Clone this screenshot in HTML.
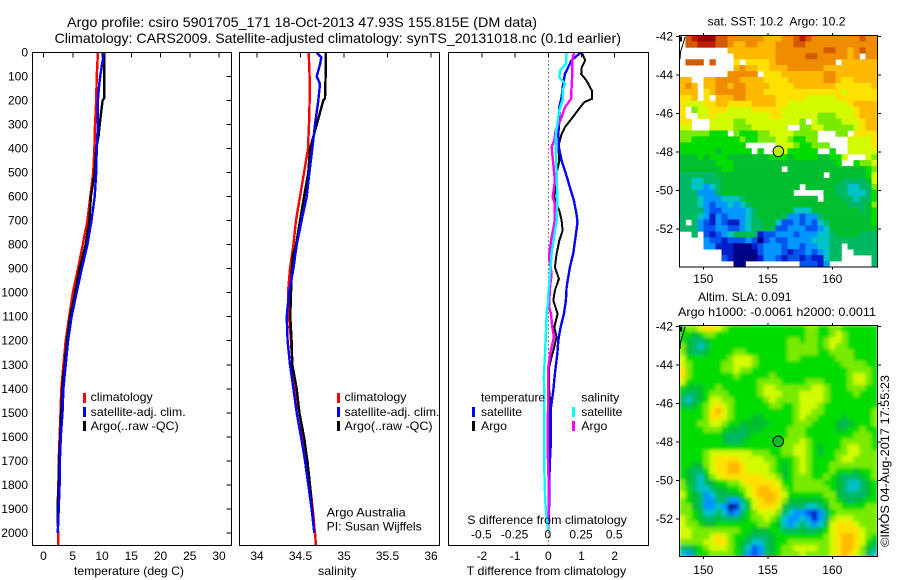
<!DOCTYPE html>
<html lang="en">
<head>
<meta charset="utf-8">
<title>Argo profile csiro 5901705_171</title>
<style>
html,body{margin:0;padding:0;background:#fff;}
svg{display:block;}
text{font-family:"Liberation Sans",sans-serif;font-size:12px;fill:#000;}
.title{font-size:14px;}
</style>
</head>
<body>
<svg id="chart" xmlns="http://www.w3.org/2000/svg" width="900" height="580" viewBox="0 0 900 580">
  <defs>
    <clipPath id="clipTemp"><rect x="32.5" y="52.5" width="199" height="493"/></clipPath>
    <clipPath id="clipSal"><rect x="239.5" y="52.5" width="200" height="493"/></clipPath>
    <clipPath id="clipDiff"><rect x="448.5" y="52.5" width="200" height="493"/></clipPath>
    <clipPath id="clipSst"><rect x="679.5" y="35.5" width="198" height="231.5"/></clipPath>
    <clipPath id="clipSla"><rect x="679.5" y="325.5" width="198" height="231"/></clipPath>
    <filter id="smoothSla" x="-5%" y="-5%" width="110%" height="110%"><feGaussianBlur in="SourceGraphic" stdDeviation="1.5" edgeMode="duplicate"/></filter>
  </defs>
  <rect x="0" y="0" width="900" height="580" fill="#fff"/>

  <text class="title" x="67" y="27" textLength="470" lengthAdjust="spacingAndGlyphs">Argo profile: csiro 5901705_171 18-Oct-2013 47.93S 155.815E (DM data)</text>
  <text class="title" x="54.5" y="43" textLength="566.5" lengthAdjust="spacingAndGlyphs">Climatology: CARS2009. Satellite-adjusted climatology: synTS_20131018.nc (0.1d earlier)</text>

  <g id="tempLines" clip-path="url(#clipTemp)"></g>
  <g id="salLines" clip-path="url(#clipSal)"></g>
  <g id="diffLines" clip-path="url(#clipDiff)"></g>
  <g id="sstCells" clip-path="url(#clipSst)"></g>
  <g clip-path="url(#clipSla)"><g id="slaCells" filter="url(#smoothSla)"></g></g>
  <g id="axes"></g>

  <rect x="32.5" y="52.5" width="199" height="493" fill="none" stroke="#000"/>
  <rect x="239.5" y="52.5" width="200" height="493" fill="none" stroke="#000"/>
  <rect x="448.5" y="52.5" width="200" height="493" fill="none" stroke="#000"/>
  <rect x="679.5" y="35.5" width="198" height="231.5" fill="none" stroke="#000"/>
  <rect x="679.5" y="325.5" width="198" height="231" fill="none" stroke="#000"/>

  <polyline points="685,37 683,44 680.5,52 680,59" fill="none" stroke="#000" stroke-width="1"/>
  <rect x="680" y="36.5" width="2" height="5" fill="#000"/>
  <polyline points="685,327 683,334 680.5,342 680,349" fill="none" stroke="#000" stroke-width="1"/>
  <rect x="680" y="326.5" width="2" height="5" fill="#000"/>
  <circle cx="778.3" cy="151.3" r="5.3" fill="#b8ee00" stroke="#000"/>
  <circle cx="778.3" cy="441.3" r="5.3" fill="#00be20" stroke="#000"/>

  <text x="74" y="575" textLength="110" lengthAdjust="spacingAndGlyphs">temperature (deg C)</text>
  <text x="318" y="575" textLength="38.5" lengthAdjust="spacingAndGlyphs">salinity</text>
  <text x="466.7" y="575" textLength="159.5" lengthAdjust="spacingAndGlyphs">T difference from climatology</text>
  <text x="467.3" y="524" textLength="159.5" lengthAdjust="spacingAndGlyphs">S difference from climatology</text>

  <rect x="83" y="393" width="3" height="10" fill="#f00"/>
  <text x="90.7" y="401" textLength="62" lengthAdjust="spacingAndGlyphs">climatology</text>
  <rect x="83" y="407" width="3" height="10" fill="#00f"/>
  <text x="90.7" y="416" textLength="95" lengthAdjust="spacingAndGlyphs">satellite-adj. clim.</text>
  <rect x="83" y="421" width="3" height="10" fill="#000"/>
  <text x="90.7" y="430" textLength="88" lengthAdjust="spacingAndGlyphs">Argo(..raw -QC)</text>

  <rect x="337" y="393" width="3" height="10" fill="#f00"/>
  <text x="344.5" y="401" textLength="62" lengthAdjust="spacingAndGlyphs">climatology</text>
  <rect x="337" y="407" width="3" height="10" fill="#00f"/>
  <text x="344.5" y="416" textLength="95" lengthAdjust="spacingAndGlyphs">satellite-adj. clim.</text>
  <rect x="337" y="421" width="3" height="10" fill="#000"/>
  <text x="344.5" y="430" textLength="88" lengthAdjust="spacingAndGlyphs">Argo(..raw -QC)</text>

  <text x="326.7" y="516.5" textLength="79" lengthAdjust="spacingAndGlyphs">Argo Australia</text>
  <text x="326.7" y="530.5" textLength="95" lengthAdjust="spacingAndGlyphs">PI: Susan Wijffels</text>

  <text x="481" y="401.5" textLength="64" lengthAdjust="spacingAndGlyphs">temperature</text>
  <rect x="472" y="407" width="3" height="10" fill="#00f"/>
  <text x="481" y="416" textLength="41" lengthAdjust="spacingAndGlyphs">satellite</text>
  <rect x="472" y="421" width="3" height="10" fill="#000"/>
  <text x="481" y="430" textLength="26" lengthAdjust="spacingAndGlyphs">Argo</text>
  <text x="581.3" y="401.5" textLength="38" lengthAdjust="spacingAndGlyphs">salinity</text>
  <rect x="572" y="407" width="3" height="10" fill="#0ff"/>
  <text x="581.3" y="416" textLength="41" lengthAdjust="spacingAndGlyphs">satellite</text>
  <rect x="572" y="421" width="3" height="10" fill="#f0f"/>
  <text x="581.3" y="430" textLength="26" lengthAdjust="spacingAndGlyphs">Argo</text>

  <text x="707.5" y="25.5" textLength="138" lengthAdjust="spacingAndGlyphs" style="white-space:pre">sat. SST: 10.2  Argo: 10.2</text>
  <text x="698" y="301" textLength="93.5" lengthAdjust="spacingAndGlyphs">Altim. SLA: 0.091</text>
  <text x="678" y="316" textLength="198" lengthAdjust="spacingAndGlyphs">Argo h1000: -0.0061 h2000: 0.0011</text>
  <text transform="translate(889,547) rotate(-90)" x="0" y="0" textLength="172" lengthAdjust="spacingAndGlyphs">©IMOS 04-Aug-2017 17:55:23</text>
</svg>

<script>
// ---- axis tick labels ----
const depthTicks = [0,100,200,300,400,500,600,700,800,900,1000,1100,1200,1300,1400,1500,1600,1700,1800,1900,2000];
const tempTicks = [0,5,10,15,20,25,30];
const salTicks = [34,34.5,35,35.5,36];
const diffTTicks = [-2,-1,0,1,2];
const diffSTicks = [-0.5,-0.25,0,0.25,0.5];
const lonTicks = [150,155,160];
const latTicks = [-42,-44,-46,-48,-50,-52];

// ---- temperature profiles (deg C) ----
const climTempDepth = [0,100,200,300,400,500,600,700,800,900,1000,1100,1200,1300,1400,1500,1600,1700,1800,1900,2000,2053];
const climTemp = [9.3,9.1,9.0,8.8,8.7,8.5,8.0,7.5,6.7,5.9,5.0,4.4,3.8,3.4,3.05,2.9,2.75,2.6,2.55,2.4,2.5,2.5];
const argoTempDepth = [0,100,190,200,250,300,350,400,500,600,700,800,900,1000,1100,1200,1300,1400,1500,1600,1700,1800,1900,1960];
const argoTemp = [10.36,10.4,10.36,10.1,9.85,9.6,9.4,9.0,8.75,8.1,7.85,7.2,6.15,5.4,4.55,4.0,3.6,3.2,3.05,2.85,2.65,2.6,2.4,2.4];
const satTempDepth = [0,50,100,150,200,300,400,500,600,700,800,900,1000,1100,1200,1300,1400,1500,1600,1700,1800,1900,2000];
const satTemp = [10.36,10,9.7,9.45,9.3,9.3,9.1,9.0,8.75,8.2,7.5,6.55,5.65,4.8,4.2,3.8,3.4,3.25,2.95,2.8,2.75,2.6,2.45];

// ---- salinity profiles ----
const climSal = [34.594,34.605,34.605,34.598,34.586,34.540,34.494,34.448,34.418,34.379,34.356,34.368,34.391,34.406,34.437,34.487,34.533,34.579,34.609,34.640,34.667,34.678];
const argoSal = [34.789,34.789,34.782,34.762,34.724,34.686,34.648,34.609,34.590,34.540,34.494,34.448,34.410,34.402,34.391,34.383,34.398,34.406,34.456,34.487,34.540,34.579,34.609,34.632,34.648];
const argoSalDepth = [0,100,190,200,250,300,350,400,500,600,700,800,850,900,1000,1100,1200,1300,1400,1500,1600,1700,1800,1900,1960];
const satSalDepth = [0,20,50,100,130,200,300,400,500,600,700,800,900,1000,1100,1200,1300,1400,1500,1600,1700,1800,1900,2000];
const satSal = [34.686,34.739,34.724,34.686,34.724,34.705,34.667,34.636,34.602,34.571,34.513,34.456,34.418,34.368,34.341,34.352,34.379,34.418,34.456,34.506,34.552,34.590,34.628,34.659];

// ---- differences from climatology ----
const diffArgoTDepth = [0,33,61,89,117,158,193,207,241,276,311,339,366,394,450,505,561,602,630,658,699,741,783,838,894,942,991,1032,1088,1143,1185,1241,1310,1393,1449,1518,1588,1643,1921,1991];
const diffArgoT = [1.01,1.11,1.01,0.99,1.15,1.31,1.31,1.08,0.89,0.70,0.50,0.40,0.35,0.30,0.33,0.25,0.22,0.18,0.25,0.33,0.40,0.43,0.33,0.25,0.20,0.32,0.20,0.15,0.28,0.18,0.25,0.15,0.02,0.02,0.05,0.03,0.03,0.05,0.02,0.01];
const diffSatTDepth = [0,33,89,130,186,228,283,339,394,450,505,561,616,672,706,769,838,894,977,1032,1088,1143,1199,1255,1338,1407,1477,1560,1643,1727,1866,1977];
const diffSatT = [0.98,0.70,0.50,0.45,0.40,0.33,0.33,0.30,0.32,0.40,0.53,0.65,0.77,0.85,0.88,0.82,0.75,0.65,0.55,0.53,0.47,0.37,0.30,0.27,0.20,0.15,0.08,0.07,0.07,0.04,0.03,0.00];
const diffSatSDepth = [0,47,75,103,130,158,200,241,297,339,394,505,616,699,769,838,921,1005,1032,1088,1171,1255,1352,1449,1588,1727,1866,1935,1991];
const diffSatS = [0.138,0.133,0.088,0.083,0.126,0.108,0.108,0.083,0.068,0.058,0.055,0.063,0.068,0.063,0.043,0.025,0.013,0,0,-0.013,-0.018,-0.025,-0.033,-0.03,-0.03,-0.03,-0.023,-0.013,0];
const diffArgoSDepth = [0,33,89,193,228,269,325,366,394,464,533,602,630,699,783,852,921,977,1060,1088,1143,1185,1241,1310,1393,1518,1643,1796,1893,1977];
const diffArgoS = [0.193,0.181,0.181,0.171,0.126,0.10,0.055,0.045,0.025,0.038,0.05,0.033,0.05,0.05,0.02,0.005,0.025,0.013,0.005,0.02,0.03,0.043,0.018,0,0,-0.003,-0.005,0.003,0.003,0];

// ---- SST map: colour-scale level per cell, _ = no data ----
const _ = null;
const sstRows = [
[_,13,14,15,15,15,13,13,12,12,12,12,12,12,11,11,11,12,12,13,14,13,12,12,12,12,12,12,12,12,13,12,12],
[_,13,13,14,14,14,13,13,12,11,11,12,12,11,11,11,12,12,12,13,13,12,12,12,12,12,12,12,12,12,12,12,12],
[_,_,_,_,_,_,_,_,11,11,11,11,11,11,11,11,12,12,12,12,12,12,12,12,13,13,12,12,11,12,13,12,12],
[_,_,_,_,_,_,_,_,_,11,11,11,11,11,11,11,12,12,12,12,12,13,13,12,12,12,12,12,11,12,_,12,12],
[_,13,13,13,_,13,_,_,_,10,_,10,10,10,10,11,12,12,12,12,12,12,12,12,12,12,_,11,11,11,11,11,11],
[_,_,_,_,_,_,_,_,_,11,12,11,11,10,10,11,11,11,12,12,12,12,12,12,11,11,11,11,11,11,11,11,11],
[_,_,_,_,_,_,_,_,12,12,12,12,12,_,10,10,10,11,11,11,11,11,11,11,12,12,11,11,11,11,11,11,11],
[11,11,_,_,11,11,12,12,12,12,11,11,11,11,10,10,10,10,11,11,11,11,11,11,12,12,11,10,10,11,11,11,11],
[11,12,11,_,11,11,12,12,11,12,12,11,11,11,11,10,10,10,10,11,11,11,11,11,11,11,10,10,10,10,10,10,11],
[11,11,11,_,10,11,12,12,12,12,12,11,11,11,10,10,10,10,10,10,10,10,10,10,10,10,10,9,10,10,10,10,10],
[10,10,11,_,10,_,11,11,11,12,12,11,11,11,11,11,10,10,10,10,10,9,9,9,9,9,10,10,10,10,10,10,10],
[10,9,9,9,10,10,11,11,10,10,10,10,11,11,11,11,10,10,9,9,9,9,9,9,9,9,9,9,10,11,11,11,11],
[10,_,8,9,9,10,10,10,9,9,9,9,10,10,10,10,10,9,9,9,9,9,9,9,9,9,9,9,9,10,11,11,11],
[10,_,_,9,9,10,9,9,9,9,9,9,9,9,9,10,10,9,9,9,9,9,9,8,8,8,9,9,9,10,11,11,11],
[10,10,_,_,_,9,9,9,9,8,8,9,9,9,9,9,9,9,9,9,8,_,9,8,8,8,8,9,9,9,10,11,11],
[9,9,_,_,_,9,9,9,9,8,8,8,9,9,9,9,9,9,_,_,8,8,9,9,8,8,8,8,8,9,10,11,11],
[8,8,8,8,8,7,7,7,_,8,7,7,7,8,8,9,9,9,9,8,8,8,8,_,_,_,8,8,_,10,10,10,10],
[8,8,7,7,7,7,7,7,7,7,8,7,7,8,8,8,9,9,8,7,7,8,8,_,_,_,_,_,9,9,9,9,10],
[7,7,7,7,7,7,7,7,7,7,7,_,_,_,_,_,9,9,9,8,7,7,8,8,8,_,_,_,9,9,9,9,10],
[7,7,7,7,7,7,6,7,7,7,7,7,_,7,_,_,9,9,7,7,7,7,7,_,_,7,_,_,9,9,9,9,9],
[6,6,6,7,6,7,7,7,6,6,6,6,6,6,6,7,7,7,6,7,7,7,7,6,6,7,7,9,_,_,_,9,8],
[6,6,6,6,6,6,7,7,7,6,6,6,6,6,6,6,6,6,6,6,6,6,6,6,6,6,7,_,_,7,8,8,9],
[6,6,6,6,6,6,6,7,7,6,6,6,6,6,6,6,6,_,6,6,6,6,6,6,6,6,6,6,6,6,6,7,8],
[5,5,5,5,5,5,6,6,6,6,6,6,6,6,6,6,6,6,6,6,6,6,6,6,_,6,6,6,6,6,6,7,9],
[5,5,4,4,5,5,5,6,6,6,6,6,6,6,6,6,6,6,6,6,6,6,6,6,6,6,6,5,5,5,5,6,9],
[5,5,4,4,3,4,5,6,6,6,6,6,6,6,6,6,6,6,6,6,_,6,6,6,6,6,5,5,4,4,5,5,8],
[5,5,5,3,3,3,5,6,6,6,6,6,6,6,6,6,6,6,6,_,_,_,_,_,6,6,5,5,4,4,4,5,7],
[5,5,5,4,3,3,3,4,4,4,5,6,6,6,6,6,6,6,6,6,6,6,6,_,6,6,6,5,5,4,5,5,7],
[5,5,5,4,3,2,3,3,4,3,4,5,6,6,6,6,6,6,6,6,6,6,6,6,6,6,6,6,5,5,5,6,8],
[5,5,5,5,3,2,2,3,3,3,3,4,5,6,6,6,6,6,6,4,4,4,6,6,6,6,6,6,6,6,5,6,7],
[5,5,5,4,3,1,3,2,3,3,3,4,5,6,6,6,6,5,3,3,2,3,3,5,6,6,6,6,6,6,6,6,7],
[5,_,5,3,2,1,3,2,1,1,3,4,5,5,6,6,4,2,2,3,2,3,2,4,5,6,6,6,6,6,6,6,7],
[5,5,5,3,2,2,3,3,2,2,3,4,5,5,6,5,2,2,3,3,3,2,2,3,4,6,6,6,6,6,6,6,6],
[_,_,5,_,2,1,2,3,4,5,5,5,5,1,2,2,3,3,3,2,3,3,3,4,4,5,6,6,6,6,5,5,5],
[_,_,_,_,3,2,2,1,2,2,2,3,2,0,2,3,2,2,3,3,3,3,4,4,4,5,5,5,5,5,5,5,5],
[_,_,_,_,3,3,1,1,1,0,0,0,1,2,3,3,3,2,3,3,2,3,3,4,4,5,5,_,5,5,5,5,5],
[_,_,_,_,_,_,_,1,1,0,0,0,0,2,3,3,3,2,1,2,2,3,2,3,4,5,5,_,_,5,5,5,5],
[_,_,_,_,_,_,_,2,1,0,0,0,0,1,3,3,2,1,2,2,1,2,1,1,4,5,5,_,_,_,_,_,5],
[_,_,_,_,_,_,_,_,_,0,0,_,_,_,_,_,_,_,_,_,2,2,2,1,3,_,_,_,_,_,_,_,5]
];

// ---- SLA map: colour-scale level per cell ----
const slaRows = [
[7,8,8,9,10,10,9,8,7,7,7,7,7,7,7,7,7,7,7,7,7,8,8,7,7,8,8,7,7,7,7,7,7],
[7,7,6,7,8,8,7,7,7,7,7,7,7,7,7,7,7,7,7,7,7,8,8,7,7,8,9,8,7,7,7,7,7],
[7,6,5,5,6,7,7,7,7,7,7,7,7,7,7,7,7,7,8,8,7,8,8,7,8,9,9,8,7,7,7,7,7],
[8,6,5,4,5,7,7,7,7,7,7,7,7,7,7,7,7,7,8,8,8,8,8,7,8,9,8,8,7,7,7,7,7],
[8,6,5,5,6,7,7,7,7,8,8,7,7,7,7,7,7,7,8,8,8,8,8,7,7,8,8,8,8,7,7,7,7],
[9,7,7,7,7,7,7,7,8,9,9,9,8,7,7,7,7,7,8,8,7,7,7,7,7,7,8,8,8,7,7,7,7],
[9,8,7,7,7,7,7,8,8,9,9,9,8,7,7,7,7,7,7,7,7,7,7,7,7,7,7,8,8,8,8,7,7],
[10,8,7,7,7,7,7,8,8,9,8,8,7,7,7,7,7,7,7,7,7,7,7,7,7,7,7,7,8,8,8,8,7],
[10,8,7,7,7,7,7,7,7,8,7,7,7,7,7,8,7,7,7,7,7,7,7,7,7,7,7,7,8,9,9,8,7],
[9,7,7,7,7,7,7,7,7,7,7,7,7,8,8,8,8,7,7,7,7,8,8,8,7,7,7,7,8,9,9,8,7],
[7,6,6,6,7,7,8,7,7,7,7,7,7,8,9,9,8,8,8,8,8,8,9,9,8,7,7,7,8,8,8,7,7],
[6,5,5,6,7,8,8,8,7,7,7,7,7,8,9,9,9,8,8,8,9,9,9,9,8,7,7,7,7,8,7,7,7],
[5,4,5,6,7,9,9,8,8,7,7,7,7,7,8,9,8,8,8,8,9,9,9,9,8,7,7,7,7,7,7,7,7],
[6,5,6,7,8,9,10,9,8,7,7,7,7,7,7,8,8,7,7,8,9,9,9,8,7,7,7,7,7,7,7,7,7],
[7,7,7,7,8,10,11,9,8,7,7,7,7,7,7,7,7,7,7,8,9,9,8,8,7,7,7,7,7,7,7,7,8],
[7,7,7,7,8,10,10,9,8,7,7,7,6,6,7,7,7,7,7,8,9,8,8,7,7,7,7,6,7,7,7,7,8],
[7,7,7,8,8,9,9,8,7,7,6,6,6,6,6,7,7,7,7,8,8,8,7,7,7,7,6,5,6,7,7,7,8],
[7,7,7,7,8,8,8,7,6,6,5,6,6,6,7,7,7,7,8,8,8,7,7,7,7,7,6,6,7,7,8,7,7],
[7,7,7,7,7,7,7,6,5,5,5,6,7,7,7,7,7,7,8,8,8,7,7,7,7,7,7,7,7,8,8,8,7],
[7,7,7,7,7,7,7,6,5,5,6,7,7,7,7,7,7,8,8,8,9,8,7,7,7,7,7,8,8,8,8,8,7],
[7,7,7,7,7,7,7,7,7,7,7,7,7,7,7,7,7,8,8,9,9,8,7,6,7,7,7,8,9,9,8,8,7],
[7,7,7,7,8,9,9,9,9,9,9,9,8,8,8,7,7,8,8,9,9,8,7,6,7,7,8,8,9,9,8,8,8],
[7,7,7,7,8,9,10,10,10,10,9,9,9,9,8,8,7,7,7,8,9,8,7,7,7,7,8,9,9,8,8,8,8],
[7,7,6,6,8,9,10,10,11,11,10,9,9,9,9,8,7,6,7,8,9,8,7,7,7,8,8,8,8,8,8,8,8],
[7,6,5,5,7,9,10,10,11,11,10,9,9,9,9,8,7,6,7,8,9,8,7,7,7,8,7,7,7,6,7,7,8],
[7,6,5,4,6,8,9,10,10,10,10,10,10,10,9,9,8,6,7,8,8,8,7,7,8,7,6,5,5,5,6,7,8],
[8,6,5,4,5,6,7,7,8,8,9,10,10,10,10,10,9,7,7,8,8,8,8,8,7,7,6,5,4,4,5,6,7],
[8,7,5,4,4,5,6,6,7,7,8,9,10,11,11,10,10,8,7,8,8,8,8,8,8,7,6,5,4,4,5,6,7],
[9,7,6,5,3,4,5,5,6,6,7,9,10,11,11,11,10,9,7,7,7,7,7,7,8,8,6,5,5,5,5,6,7],
[8,7,6,5,3,3,5,5,3,3,5,7,9,10,11,11,10,8,6,6,6,6,6,6,7,8,7,6,5,6,6,7,7],
[8,8,6,5,3,3,4,3,0,1,4,6,9,10,10,10,9,6,5,5,5,4,4,5,6,8,8,7,7,7,7,8,8],
[8,8,7,6,4,4,5,4,2,3,5,7,8,9,9,9,8,5,4,3,3,2,1,3,5,7,8,8,8,8,8,8,8],
[9,8,7,6,5,5,6,5,5,5,6,7,8,8,9,8,7,4,3,3,4,3,1,3,5,8,9,9,9,8,8,8,8],
[9,8,8,7,6,6,7,7,7,7,7,7,7,8,8,7,6,4,3,4,5,4,3,4,6,9,10,10,10,9,8,8,8],
[9,9,8,8,8,8,8,8,8,8,7,7,6,6,6,7,7,5,5,5,6,5,5,6,7,9,10,10,10,10,9,8,8],
[9,9,8,8,8,9,10,9,8,7,7,6,5,5,5,6,7,7,7,7,7,7,7,7,8,9,10,11,11,10,9,8,7],
[8,8,8,8,9,9,10,10,8,7,6,5,4,4,5,6,7,7,8,8,8,8,8,8,8,9,10,11,11,10,9,7,6],
[5,5,6,7,8,9,9,9,8,7,6,4,2,3,5,6,7,8,8,9,9,9,9,8,8,9,10,11,11,10,8,6,5],
[4,3,5,7,7,8,8,8,8,7,5,3,2,3,5,6,7,8,8,8,9,8,8,8,8,9,10,11,10,9,8,5,4]
];

// ---- colour scale, level index to rgb ----
const levelColors = ["rgb(0,0,135)","rgb(0,30,200)","rgb(0,85,240)","rgb(0,150,255)","rgb(0,195,200)","rgb(0,185,100)","rgb(0,190,45)","rgb(0,220,0)","rgb(120,235,0)","rgb(210,250,0)","rgb(255,225,0)","rgb(255,185,0)","rgb(240,140,0)","rgb(210,90,0)","rgb(190,30,0)","rgb(150,0,0)"];

// ---- scales ----
const SVGNS = "http://www.w3.org/2000/svg";
function yDepth(d){ return 52.5 + 0.2402 * d; }
function xTemp(t){ return 43.5 + 5.85 * t; }
function xSal(s){ return 257 + 87 * (s - 34); }
function xDiffT(v){ return 548.3 + 33.2 * v; }
function xDiffS(v){ return 548.3 + 132.8 * v; }
function xLon(lon){ return 703.3 + 12.9 * (lon - 150); }
function ySstLat(lat){ return 36.3 + 19.25 * (-42 - lat); }
function ySlaLat(lat){ return 326.7 + 19.25 * (-42 - lat); }

const tempGroup = document.getElementById("tempLines");
const salGroup = document.getElementById("salLines");
const diffGroup = document.getElementById("diffLines");
const sstGroup = document.getElementById("sstCells");
const slaGroup = document.getElementById("slaCells");
const axesGroup = document.getElementById("axes");

function linePoints(depths, values, xFn){
  return values.map(function(v, i){ return xFn(v).toFixed(1) + "," + yDepth(depths[i]).toFixed(1); }).join(" ");
}
function makeLine(depths, values, xFn, color, width){
  const el = document.createElementNS(SVGNS, "polyline");
  el.setAttribute("points", linePoints(depths, values, xFn));
  el.setAttribute("fill", "none");
  el.setAttribute("stroke", color);
  el.setAttribute("stroke-width", width);
  el.setAttribute("shape-rendering", "crispEdges");
  return el;
}
function makeText(x, y, str, anchor){
  const el = document.createElementNS(SVGNS, "text");
  el.setAttribute("x", x);
  el.setAttribute("y", y);
  el.setAttribute("text-anchor", anchor);
  el.textContent = str;
  return el;
}
function makeTick(x1, y1, x2, y2){
  const el = document.createElementNS(SVGNS, "line");
  el.setAttribute("x1", x1);
  el.setAttribute("y1", y1);
  el.setAttribute("x2", x2);
  el.setAttribute("y2", y2);
  el.setAttribute("stroke", "#000");
  el.setAttribute("stroke-width", 1);
  el.setAttribute("shape-rendering", "crispEdges");
  return el;
}

// temperature panel
let el;
el = makeLine(climTempDepth, climTemp, xTemp, "#f00", 2.4);


tempGroup.appendChild(el);
el = makeLine(argoTempDepth, argoTemp, xTemp, "#000", 2.4);


tempGroup.appendChild(el);
el = makeLine(satTempDepth, satTemp, xTemp, "#00f", 2.4);


tempGroup.appendChild(el);

// salinity panel
el = makeLine(climTempDepth, climSal, xSal, "#f00", 2.4);


salGroup.appendChild(el);
el = makeLine(argoSalDepth, argoSal, xSal, "#000", 2.4);


salGroup.appendChild(el);
el = makeLine(satSalDepth, satSal, xSal, "#00f", 2.4);


salGroup.appendChild(el);

// difference panel
el = document.createElementNS(SVGNS, "line");
el.setAttribute("x1", Math.round(xDiffT(0)) + 0.5);
el.setAttribute("x2", Math.round(xDiffT(0)) + 0.5);
el.setAttribute("y1", 52.5);
el.setAttribute("y2", 545.5);
el.setAttribute("stroke", "#000");
el.setAttribute("stroke-dasharray", "1 3");
el.setAttribute("shape-rendering", "crispEdges");


diffGroup.appendChild(el);
el = makeLine(diffArgoTDepth, diffArgoT, xDiffT, "#000", 2);


diffGroup.appendChild(el);
el = makeLine(diffSatTDepth, diffSatT, xDiffT, "#00f", 2.4);


diffGroup.appendChild(el);
el = makeLine(diffArgoSDepth, diffArgoS, xDiffS, "#f0f", 2.4);


diffGroup.appendChild(el);
el = makeLine(diffSatSDepth, diffSatS, xDiffS, "#0ff", 2.4);


diffGroup.appendChild(el);

// heatmaps
const cellW = 198 / 33;
const cellH = 231.5 / 39;
sstRows.forEach(function(row, r){
  row.forEach(function(level, c){
    if (level === null) return;
    const cell = document.createElementNS(SVGNS, "rect");
    cell.setAttribute("x", (679.5 + c * cellW).toFixed(2));
    cell.setAttribute("y", (35.5 + r * cellH).toFixed(2));
    cell.setAttribute("width", cellW + 0.3);
    cell.setAttribute("height", (cellH + 0.3).toFixed(2));
    cell.setAttribute("fill", levelColors[level]);
    
    
    sstGroup.appendChild(cell);
  });
});
slaRows.forEach(function(row, r){
  row.forEach(function(level, c){
    const cell = document.createElementNS(SVGNS, "rect");
    cell.setAttribute("x", (679.5 + c * cellW).toFixed(2));
    cell.setAttribute("y", (325.5 + r * cellH).toFixed(2));
    cell.setAttribute("width", cellW + 0.3);
    cell.setAttribute("height", (cellH + 0.3).toFixed(2));
    cell.setAttribute("fill", levelColors[level]);
    
    
    slaGroup.appendChild(cell);
  });
});

// depth ticks: labels left of panel 1, tick marks inside panel 1 right edge
depthTicks.forEach(function(d){
  const y = yDepth(d);
  const label = makeText(28, y + 4, String(d), "end");
  
  
  axesGroup.appendChild(label);
  const tick = makeTick(226.5, y, 231.5, y);
  
  
  axesGroup.appendChild(tick);
});
tempTicks.forEach(function(t){
  const x = xTemp(t);
  const label = makeText(x, 560, String(t), "middle");
  
  
  axesGroup.appendChild(label);
  const tick = makeTick(x, 52.5, x, 57.5);
  
  
  axesGroup.appendChild(tick);
});
salTicks.forEach(function(s){
  const x = xSal(s);
  const label = makeText(x, 560, String(s), "middle");
  
  
  axesGroup.appendChild(label);
  const tick = makeTick(x, 52.5, x, 57.5);
  
  
  axesGroup.appendChild(tick);
});
diffTTicks.forEach(function(v){
  const x = xDiffT(v);
  const label = makeText(x, 560, String(v), "middle");
  
  
  axesGroup.appendChild(label);
  const tick = makeTick(x, 52.5, x, 57.5);
  
  
  axesGroup.appendChild(tick);
});
diffSTicks.forEach(function(v){
  const label = makeText(xDiffS(v) - 0.5, 538.5, String(v), "middle");
  
  
  axesGroup.appendChild(label);
});

// map ticks
lonTicks.forEach(function(lon){
  const x = xLon(lon);
  const labelA = makeText(x, 283, String(lon), "middle");
  
  
  axesGroup.appendChild(labelA);
  const labelB = makeText(x, 574, String(lon), "middle");
  
  
  axesGroup.appendChild(labelB);
  const tickA = makeTick(x, 33, x, 35.5);
  
  
  axesGroup.appendChild(tickA);
  const tickB = makeTick(x, 267, x, 269.5);
  
  
  axesGroup.appendChild(tickB);
  const tickC = makeTick(x, 323, x, 325.5);
  
  
  axesGroup.appendChild(tickC);
  const tickD = makeTick(x, 556.5, x, 559);
  
  
  axesGroup.appendChild(tickD);
});
latTicks.forEach(function(lat){
  const yA = ySstLat(lat);
  const yB = ySlaLat(lat);
  const labelA = makeText(673, yA + 4, String(lat), "end");
  
  
  axesGroup.appendChild(labelA);
  const labelB = makeText(673, yB + 4, String(lat), "end");
  
  
  axesGroup.appendChild(labelB);
  const tickA = makeTick(676, yA, 679.5, yA);
  
  
  axesGroup.appendChild(tickA);
  const tickB = makeTick(877.5, yA, 881, yA);
  
  
  axesGroup.appendChild(tickB);
  const tickC = makeTick(676, yB, 679.5, yB);
  
  
  axesGroup.appendChild(tickC);
  const tickD = makeTick(877.5, yB, 881, yB);
  
  
  axesGroup.appendChild(tickD);
});
</script>
</body>
</html>
